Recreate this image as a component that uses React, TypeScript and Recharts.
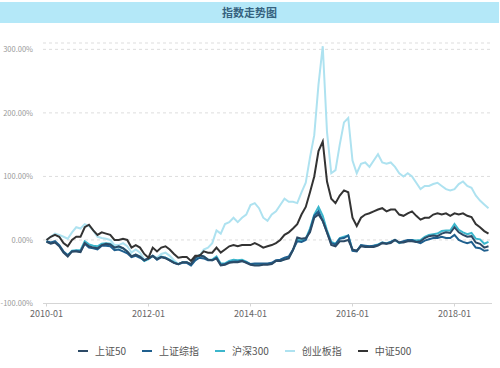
import React from 'react';
import { LineChart, Line, XAxis, YAxis, CartesianGrid, Legend } from 'recharts';

const title = '指数走势图';
const startYear = 2010;
const xTickIdx = [0, 24, 48, 72, 96];
const yTicks = [-100, 0, 100, 200, 300];

const seriesNames = ['上证50', '上证综指', '沪深300', '创业板指', '中证500'];
const seriesColors = ['#2c4a66', '#1f5f8e', '#3cb6cc', '#aee2f0', '#333333'];

// cumulative return (%) since 2010-01, monthly 2010-01 .. 2018-09
const sz50 = [
  -3, -6, -4, -10, -20, -26, -18, -18, -19, -5, -10, -12,
  -13, -8, -6, -7, -12, -10, -13, -18, -26, -23, -26, -32,
  -29, -25, -30, -27, -29, -32, -36, -38, -35, -35, -38, -28,
  -24, -26, -31, -32, -29, -40, -39, -36, -35, -35, -33, -36,
  -39, -40, -40, -39, -39, -38, -33, -33, -31, -29, -16, 4,
  2, 3, 12, 35, 40, 30, 12, -8, -10, -2, -2, 0,
  -15, -17, -10, -11, -11, -11, -9, -5, -6, -5, 0, -4,
  -4, -2, -2, -3, -2, 3, 6, 7, 6, 10, 12, 11,
  20, 12, 8, 5, 6, -4, -6, -12, -10,
];
const szzz = [
  -2, -4, -2, -8, -18, -24, -18, -17, -18, -6, -12, -13,
  -15, -9, -9, -10, -16, -15, -18, -21, -27, -25, -28, -32,
  -29, -25, -31, -27, -28, -32, -36, -38, -36, -36, -40, -32,
  -28, -29, -32, -32, -28, -39, -38, -35, -34, -34, -33, -35,
  -38, -37, -37, -37, -37, -36, -32, -31, -28, -26, -15, -2,
  -3, 0, 15, 38, 45, 30, 12, -5, -7, 2, 3, 7,
  -17, -18, -8, -9, -10, -9, -8, -4, -6, -3, 0, -4,
  -2, 0, 0, -3, -5, -1, 1, 3, 3, 5, 3, 3,
  8, 0, -3, -5, -3, -12, -13, -17, -16,
];
const hs300 = [
  -2, -5, -3, -9, -19, -24, -17, -16, -16, -2, -7, -9,
  -10, -6, -5, -6, -12, -11, -13, -18, -26, -23, -26, -33,
  -30, -25, -30, -26, -28, -31, -35, -38, -35, -35, -38, -29,
  -24, -26, -31, -31, -26, -37, -37, -33, -31, -32, -31, -34,
  -38, -38, -39, -38, -38, -37, -33, -33, -30, -28, -16, 0,
  -1, 2, 18, 40, 52, 38, 15, -3, -6, 3, 5, 7,
  -16, -17, -9, -10, -10, -9, -7, -4, -5, -3, 0, -5,
  -3, -1, 0, -1, 0, 5, 8, 9, 10, 14, 15, 15,
  25, 16, 12, 9, 11, 2, 1, -6, -3,
];
const cyb = [
  0, 5, 10, 8, 5, 2, 12, 20, 18, 25, 22, 15,
  5, 3, 2, 0, -8, -8, -5, -10, -20, -15, -20, -30,
  -30, -25, -28, -22, -20, -25, -32, -38, -35, -35, -40, -32,
  -25, -15, -12, -5, 15, 10, 25, 28, 35, 28, 35, 40,
  55, 58, 50, 35, 30, 40, 45, 55, 65, 60, 60, 58,
  75, 90, 130, 165, 245, 305, 170, 105, 110, 150, 185, 192,
  125, 105, 120, 122, 115, 125, 135, 122, 120, 122, 115, 105,
  100, 105, 100, 90, 80, 85, 85, 88, 90, 85, 80, 78,
  80, 88, 92, 85, 82, 70, 62, 56, 50,
];
const zz500 = [
  0, 5, 8, 5, -5, -10, 0, 5, 5, 20, 24, 15,
  8, 12, 10, 8, 0, 0, 2, 0, -12, -8, -12, -22,
  -28, -12, -18, -12, -10, -15, -22, -28, -27, -27, -33, -25,
  -25, -18, -20, -20, -12, -20, -15, -10, -8, -10, -8, -8,
  -8, -5, -8, -12, -10, -8, -5, 0, 8, 12, 18, 25,
  40, 52, 75, 100, 140, 155, 92, 65, 58, 70, 78, 75,
  35, 22, 35, 40, 42, 45, 48, 50, 45, 48, 48, 40,
  38, 42, 45, 38, 32, 35, 35, 40, 42, 40, 42, 38,
  42, 40, 42, 38, 36, 25, 20, 14, 10,
];

const seriesValues = [sz50, szzz, hs300, cyb, zz500];
const keys = ['s0', 's1', 's2', 's3', 's4'];

const monthLabel = (i: number) => {
  const y = startYear + Math.floor(i / 12);
  const m = (i % 12) + 1;
  return `${y}-${m < 10 ? '0' + m : m}`;
};

const data = sz50.map((_, i) => {
  const row: any = { t: i };
  seriesValues.forEach((arr, k) => {
    row[keys[k]] = arr[i];
  });
  return row;
});

const drawOrder = [3, 2, 1, 0, 4];

const LegendContent = () => (
  <div
    style={{
      display: 'flex',
      alignItems: 'center',
      paddingLeft: 78,
      fontFamily: '"Noto Sans CJK SC", sans-serif',
      fontSize: 10,
      color: '#555',
    }}
  >
    {seriesNames.map((n, k) => (
      <div key={n} style={{ display: 'flex', alignItems: 'center', marginRight: 16 }}>
        <div style={{ width: 10, height: 2, background: seriesColors[k], marginRight: 7 }} />
        <span>{n}</span>
      </div>
    ))}
  </div>
);

export default function App() {
  return (
    <div
      style={{
        position: 'absolute',
        left: 0,
        top: 0,
        width: 500,
        height: 368,
        background: '#fff',
        fontFamily: '"Noto Sans CJK SC", sans-serif',
      }}
    >
      <div
        style={{
          position: 'absolute',
          left: 0,
          top: 2,
          width: 499,
          height: 21,
          background: '#b4e8f8',
          color: '#36627f',
          fontSize: 11,
          fontWeight: 600,
          lineHeight: '21px',
          textAlign: 'center',
        }}
      >
        {title}
      </div>
      <LineChart
        width={500}
        height={368}
        data={data}
        margin={{ top: 43, right: 8, left: 0, bottom: 44.5 }}
      >
        <CartesianGrid vertical={false} stroke="#dddddd" strokeDasharray="3 3" />
        <XAxis
          dataKey="t"
          type="number"
          domain={[0, 104]}
          ticks={xTickIdx}
          tickFormatter={(v: number) => monthLabel(v)}
          padding={{ left: 3.5, right: 3.5 }}
          height={20}
          axisLine={{ stroke: '#d5d5d5' }}
          tickLine={{ stroke: '#d5d5d5' }}
          tickSize={3}
          tickMargin={4}
          tick={{ fontSize: 9, fill: '#666' }}
        />
        <YAxis
          type="number"
          domain={[-100, 310]}
          ticks={yTicks}
          allowDataOverflow
          width={43}
          axisLine={false}
          tickLine={false}
          tickSize={0}
          tickMargin={10}
          tickFormatter={(v: number) => `${v.toFixed(2)}%`}
          tick={{ fontSize: 7.5, fill: '#999' }}
        />
        <Legend
          layout="horizontal"
          verticalAlign="middle"
          align="center"
          wrapperStyle={{ top: 343, left: 0, width: 500 }}
          content={LegendContent}
        />
        {drawOrder.map((k) => (
          <Line
            key={keys[k]}
            dataKey={keys[k]}
            name={seriesNames[k]}
            stroke={seriesColors[k]}
            strokeWidth={2}
            dot={false}
            type="linear"
            isAnimationActive={false}
          />
        ))}
      </LineChart>
    </div>
  );
}
